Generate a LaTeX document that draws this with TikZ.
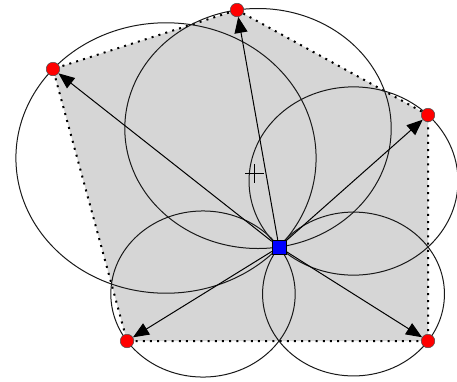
\documentclass[tikz,border=0pt]{standalone}
\usetikzlibrary{arrows.meta,calc}
\definecolor{polyfill}{RGB}{214,214,214}
\definecolor{dotred}{RGB}{255,0,0}
\definecolor{sqblue}{RGB}{0,0,255}
\tikzset{
  site/.style={circle,fill=dotred,draw=black!70,line width=0.5pt,inner sep=0pt,minimum size=13.5pt},
  ctr/.style={rectangle,fill=sqblue,draw=black,line width=0.5pt,inner sep=0pt,minimum size=14pt},
  ring/.style={draw=black!90,line width=1pt},
  arr/.style={draw=black,line width=1pt,-{Triangle[length=16pt,width=13pt]}},
  hull/.style={fill=polyfill,draw=black,line width=2pt,dash pattern=on 2pt off 5.2pt},
  plus/.style={draw=black,line width=1pt},
}
\newcommand{\thales}[2]{%
  \draw[ring] let \p1=(#1), \p2=(#2), \n1={veclen((\x2-\x1)/1.11,\y2-\y1)/2} in
    ($(#1)!0.5!(#2)$) ellipse [x radius={\n1*1.11pt}, y radius={\n1*1pt}];}
\begin{document}
\begin{tikzpicture}[x=1pt,y=-1pt]
\useasboundingbox (0,0) rectangle (457,381);
\coordinate (c) at (279,247);
\coordinate (a) at (237,10);
\coordinate (b) at (428,115);
\coordinate (d) at (428,341);
\coordinate (e) at (127,341);
\coordinate (f) at (53,69);
\coordinate (g) at (254.5,173.5);
\draw[hull] (a) -- (b) -- (d) -- (e) -- (f) -- cycle;
\thales{c}{a}
\thales{c}{b}
\thales{c}{d}
\thales{c}{e}
\thales{c}{f}
\draw[plus] ($(g)+(-9.5,0)$) -- ($(g)+(9.5,0)$) ($(g)+(0,-9.5)$) -- ($(g)+(0,9.5)$);
\node[ctr] (C) at (c) {};
\node[site] (A) at (a) {};
\node[site] (B) at (b) {};
\node[site] (D) at (d) {};
\node[site] (E) at (e) {};
\node[site] (F) at (f) {};
\draw[arr] (C) -- (A);
\draw[arr] (C) -- (B);
\draw[arr] (C) -- (D);
\draw[arr] (C) -- (E);
\draw[arr] (C) -- (F);
\end{tikzpicture}
\end{document}
